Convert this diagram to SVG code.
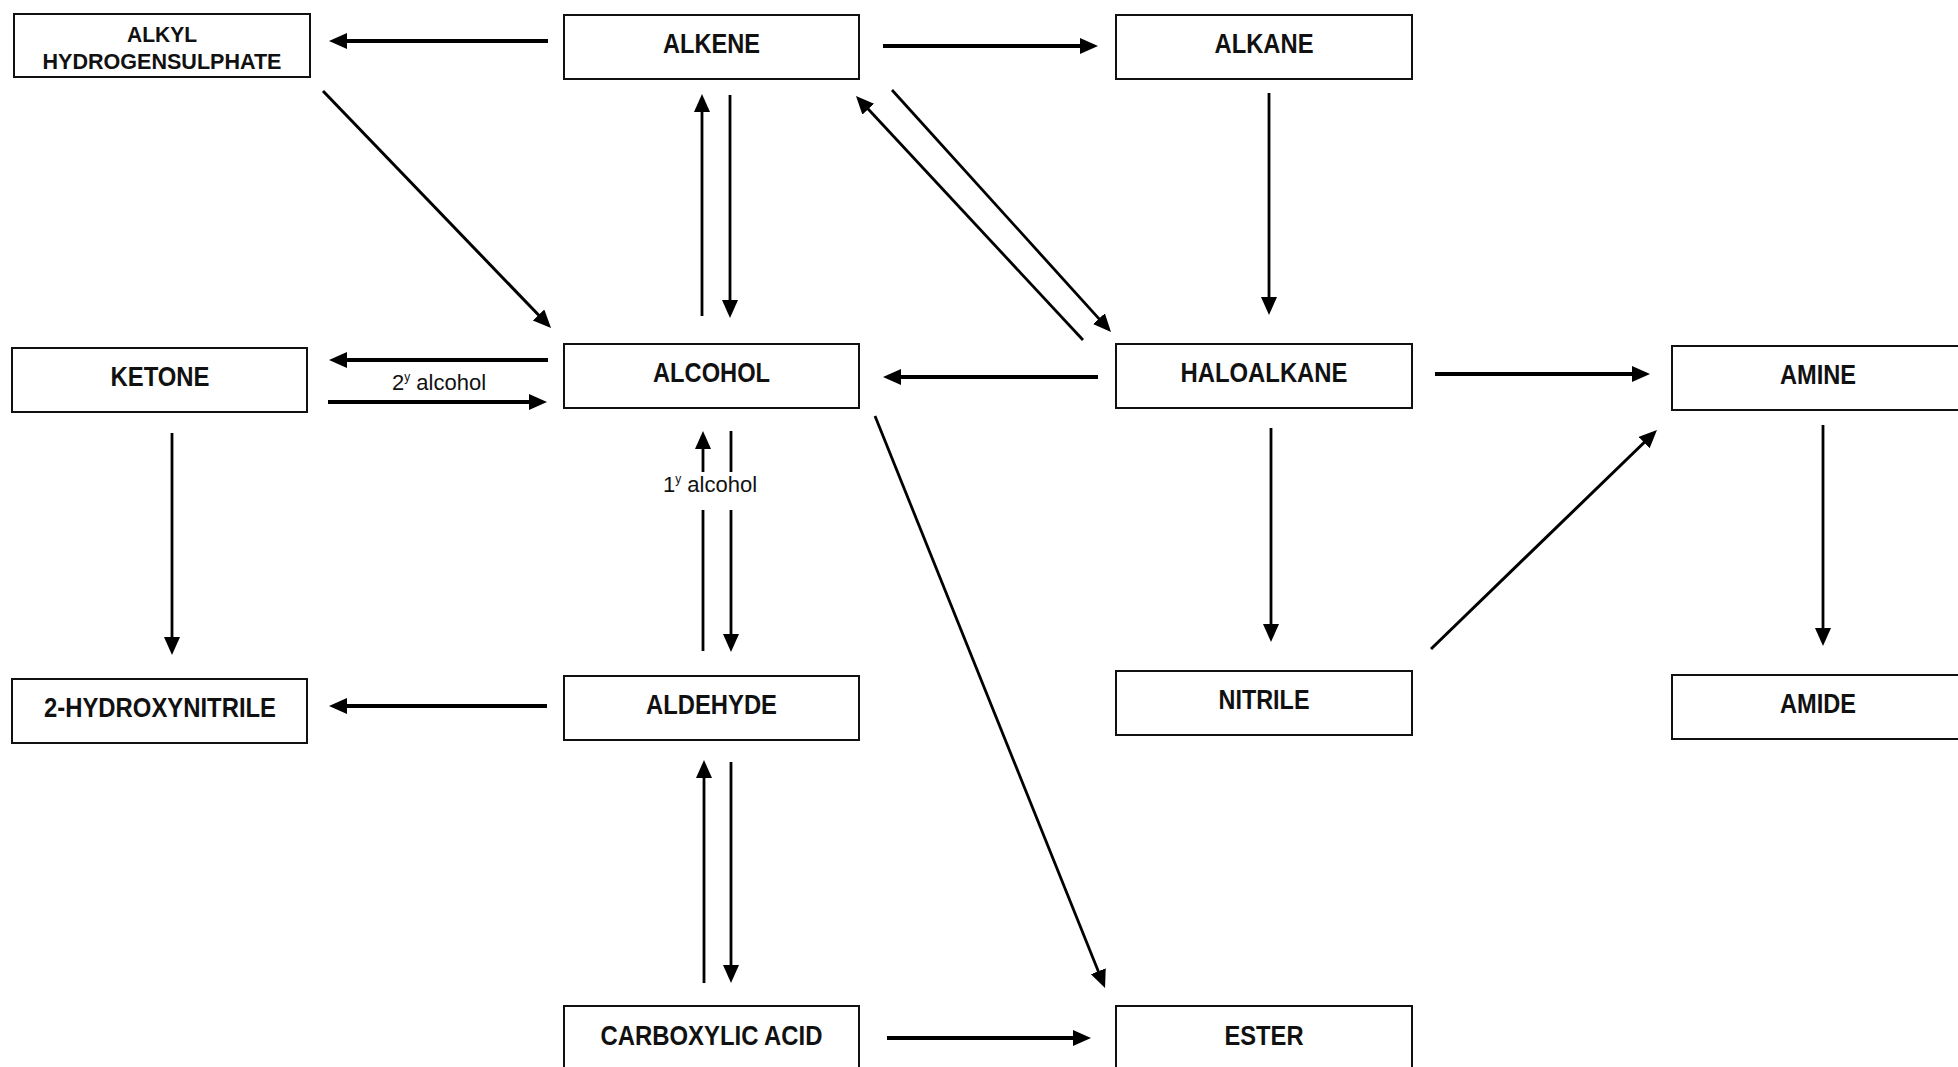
<svg xmlns="http://www.w3.org/2000/svg" width="1958" height="1067" viewBox="0 0 1958 1067">
  <style>
    .box { fill: #fff; stroke: #111; stroke-width: 2; }
    .lbl { font-family: "Liberation Sans", Arial, sans-serif; font-weight: bold; font-size: 27px; fill: #111; text-anchor: middle; }
    .lbl2 { font-family: "Liberation Sans", Arial, sans-serif; font-weight: bold; font-size: 22px; fill: #111; text-anchor: middle; }
    .note { font-family: "Liberation Sans", Arial, sans-serif; font-size: 22px; fill: #111; text-anchor: middle; }
    .sup { font-size: 12px; }
    .h { stroke: #000; stroke-width: 4; fill: none; }
    .v { stroke: #000; stroke-width: 2.8; fill: none; }
    .d { stroke: #000; stroke-width: 3; fill: none; }
    .arr { marker-end: url(#ah); }
  </style>
  <defs>
    <!-- filled arrowhead; tip sits 10px beyond the end of the line -->
    <marker id="ah" markerUnits="userSpaceOnUse" markerWidth="20" markerHeight="18" refX="8" refY="8" orient="auto">
      <path d="M0,0 L18,8 L0,16 z" fill="#000"/>
    </marker>
  </defs>
  <rect width="1958" height="1067" fill="#fff"/>

  <!-- reaction arrows -->
  <g id="connectors">
    <line class="h arr" x1="548" y1="41" x2="339" y2="41"/>
    <line class="d arr" x1="323" y1="91" x2="544.1" y2="320.8"/>
    <line class="h arr" x1="883" y1="46" x2="1088" y2="46"/>
    <line class="v arr" x1="702" y1="316" x2="702" y2="104"/>
    <line class="v arr" x1="730" y1="95" x2="730" y2="308"/>
    <line class="v arr" x1="1083" y1="340" x2="862.8" y2="103.3"/>
    <line class="v arr" x1="892" y1="90" x2="1104.3" y2="324.6"/>
    <line class="v arr" x1="1269" y1="93" x2="1269" y2="305"/>
    <line class="h arr" x1="1098" y1="377" x2="893" y2="377"/>
    <line class="h arr" x1="548" y1="360" x2="339" y2="360"/>
    <line class="h arr" x1="328" y1="402" x2="537" y2="402"/>
    <line class="h arr" x1="1435" y1="374" x2="1640" y2="374"/>
    <line class="d arr" x1="1431" y1="649" x2="1649.8" y2="437"/>
    <line class="v arr" x1="1823" y1="425" x2="1823" y2="636"/>
    <line class="v arr" x1="1271" y1="428" x2="1271" y2="632"/>
    <line class="v arr" x1="172" y1="433" x2="172" y2="645"/>
    <line class="h arr" x1="547" y1="706" x2="339" y2="706"/>
    <!-- alcohol / aldehyde pair, broken around the label -->
    <line class="v" x1="703" y1="651" x2="703" y2="510"/>
    <line class="v arr" x1="703" y1="472" x2="703" y2="441"/>
    <line class="v" x1="731" y1="431" x2="731" y2="472"/>
    <line class="v arr" x1="731" y1="510" x2="731" y2="642"/>
    <line class="v arr" x1="704" y1="983" x2="704" y2="770"/>
    <line class="v arr" x1="731" y1="762" x2="731" y2="973"/>
    <line class="v arr" x1="875" y1="416" x2="1101.3" y2="978.7"/>
    <line class="h arr" x1="887" y1="1038" x2="1081" y2="1038"/>
    <text class="note" x="439" y="390">2<tspan class="sup" dy="-9">y</tspan><tspan dy="9"> alcohol</tspan></text>
    <text class="note" x="710" y="492">1<tspan class="sup" dy="-9">y</tspan><tspan dy="9"> alcohol</tspan></text>
  </g>

  <g id="alkyl-hydrogensulphate">
    <rect class="box" x="14" y="14" width="296" height="63"/>
    <text class="lbl2" x="162" y="42" textLength="70" lengthAdjust="spacingAndGlyphs">ALKYL</text>
    <text class="lbl2" x="162" y="69" textLength="239" lengthAdjust="spacingAndGlyphs">HYDROGENSULPHATE</text>
  </g>
  <g id="alkene">
    <rect class="box" x="564" y="15" width="295" height="64"/>
    <text class="lbl" x="711.5" y="53" textLength="97" lengthAdjust="spacingAndGlyphs">ALKENE</text>
  </g>
  <g id="alkane">
    <rect class="box" x="1116" y="15" width="296" height="64"/>
    <text class="lbl" x="1264" y="53" textLength="99" lengthAdjust="spacingAndGlyphs">ALKANE</text>
  </g>
  <g id="ketone">
    <rect class="box" x="12" y="348" width="295" height="64"/>
    <text class="lbl" x="160" y="386" textLength="99" lengthAdjust="spacingAndGlyphs">KETONE</text>
  </g>
  <g id="alcohol">
    <rect class="box" x="564" y="344" width="295" height="64"/>
    <text class="lbl" x="711.5" y="382" textLength="117" lengthAdjust="spacingAndGlyphs">ALCOHOL</text>
  </g>
  <g id="haloalkane">
    <rect class="box" x="1116" y="344" width="296" height="64"/>
    <text class="lbl" x="1264" y="382" textLength="167" lengthAdjust="spacingAndGlyphs">HALOALKANE</text>
  </g>
  <g id="amine">
    <rect class="box" x="1672" y="346" width="300" height="64"/>
    <text class="lbl" x="1818" y="384" textLength="76" lengthAdjust="spacingAndGlyphs">AMINE</text>
  </g>
  <g id="hydroxynitrile">
    <rect class="box" x="12" y="679" width="295" height="64"/>
    <text class="lbl" x="160" y="717" textLength="232" lengthAdjust="spacingAndGlyphs">2-HYDROXYNITRILE</text>
  </g>
  <g id="aldehyde">
    <rect class="box" x="564" y="676" width="295" height="64"/>
    <text class="lbl" x="711.5" y="714" textLength="131" lengthAdjust="spacingAndGlyphs">ALDEHYDE</text>
  </g>
  <g id="nitrile">
    <rect class="box" x="1116" y="671" width="296" height="64"/>
    <text class="lbl" x="1264" y="709" textLength="91" lengthAdjust="spacingAndGlyphs">NITRILE</text>
  </g>
  <g id="amide">
    <rect class="box" x="1672" y="675" width="300" height="64"/>
    <text class="lbl" x="1818" y="713" textLength="76" lengthAdjust="spacingAndGlyphs">AMIDE</text>
  </g>
  <g id="carboxylic-acid">
    <rect class="box" x="564" y="1006" width="295" height="80"/>
    <text class="lbl" x="711.5" y="1045" textLength="222" lengthAdjust="spacingAndGlyphs">CARBOXYLIC ACID</text>
  </g>
  <g id="ester">
    <rect class="box" x="1116" y="1006" width="296" height="80"/>
    <text class="lbl" x="1264" y="1045" textLength="79" lengthAdjust="spacingAndGlyphs">ESTER</text>
  </g>
</svg>
